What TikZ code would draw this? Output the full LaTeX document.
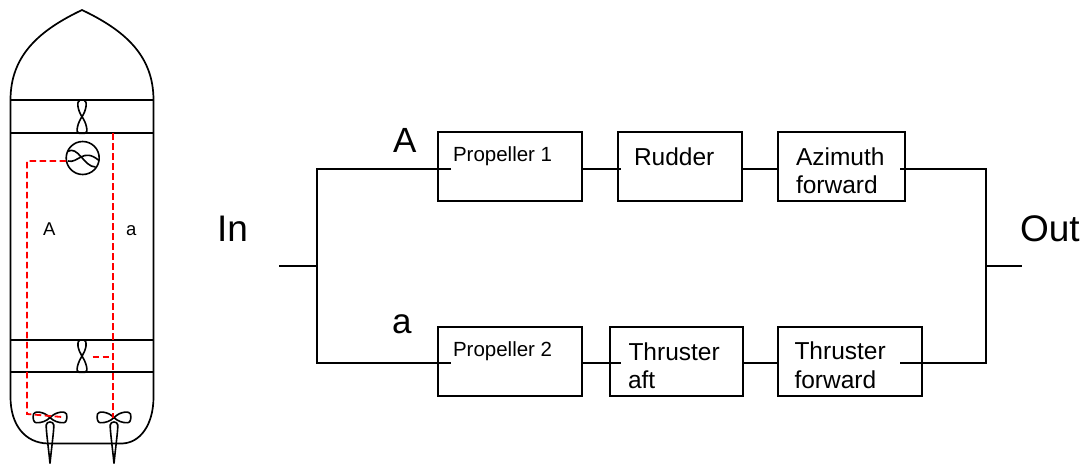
\documentclass[tikz,border=0pt]{standalone}
\usepackage{fontspec}
\setmainfont{Liberation Sans}
\begin{document}
\begin{tikzpicture}[x=1pt,y=-1pt,
  ln/.style={line width=1.8pt},
  hull/.style={line width=1.7pt, line join=round},
  prop/.style={line width=1.6pt, line join=round},
  reddash/.style={line width=1.8pt, red, dash pattern=on 6.5pt off 3.5pt},
  box/.style={draw, line width=1.8pt, rectangle, inner sep=0pt},
  txt/.style={anchor=base west, inner sep=0pt, outer sep=0pt},
  big/.style={txt, font=\fontsize{37}{40}\selectfont},
  mid/.style={txt, font=\fontsize{35}{40}\selectfont},
  bt/.style={txt, font=\fontsize{24.5}{29}\selectfont},
  st/.style={txt, font=\fontsize{20.5}{25}\selectfont},
  sh/.style={txt, font=\fontsize{18.5}{22}\selectfont}]
\useasboundingbox (0,0) rectangle (1091,466);

% ================= ship =================
% bow
\draw[hull] (10.5,100) .. controls (10.5,55) and (40,30) .. (82,10)
            .. controls (124,30) and (153.5,55) .. (153.5,100);
% sides and stern
\draw[hull] (10.5,100) -- (10.5,397) .. controls (10.5,425) and (25,443) .. (48,443.5)
            -- (122,443.5) .. controls (140,443) and (153.5,425) .. (153.5,397) -- (153.5,100);
% tunnels
\draw[hull] (10.5,100) -- (153.5,100);
\draw[hull] (10.5,133.3) -- (153.5,133.3);
\draw[hull] (10.5,340) -- (153.5,340);
\draw[hull] (10.5,372.3) -- (153.5,372.3);
% bow thruster (figure eight)
\draw[prop] (82,116.7) .. controls (86,111) and (88,101) .. (84,100) -- (80,100)
            .. controls (76,101) and (78,111) .. (82,116.7)
            .. controls (86,122) and (89,133) .. (85,133.3) -- (79,133.3)
            .. controls (75,133) and (78,122) .. (82,116.7);
% stern tunnel thruster
\draw[prop] (82,356.2) .. controls (86,350) and (88,341) .. (84,340) -- (80,340)
            .. controls (76,341) and (78,350) .. (82,356.2)
            .. controls (86,362) and (89,372) .. (85,372.3) -- (79,372.3)
            .. controls (75,372) and (78,362) .. (82,356.2);
% azimuth thruster
\draw[prop] (82.7,158) circle[radius=16.5];
\draw[prop] (67.5,151.5) .. controls (78,145) and (84,167) .. (95.5,167);
\draw[prop] (68,161) .. controls (78,164) and (83,147) .. (99,160.5);
% stern propellers
\foreach \cx in {50,114}{
  \draw[prop] (\cx,417.7) .. controls (\cx-6,411) and (\cx-16,411) .. (\cx-16.5,414)
              .. controls (\cx-17.5,418) and (\cx-16.5,422.5) .. (\cx-14,422.7)
              .. controls (\cx-8,423) and (\cx-4,421) .. (\cx,417.7)
              .. controls (\cx+4,421) and (\cx+8,423) .. (\cx+14,422.7)
              .. controls (\cx+16.5,422.5) and (\cx+17.5,418) .. (\cx+16.5,414)
              .. controls (\cx+16,411) and (\cx+6,411) .. (\cx,417.7);
  \draw[prop] (\cx,463.5) .. controls (\cx-1.5,448) and (\cx-4,430) .. (\cx-3.8,425)
              .. controls (\cx-3.5,421) and (\cx+3.5,421) .. (\cx+3.8,425)
              .. controls (\cx+4,430) and (\cx+1.5,448) .. (\cx,463.5);
}
% red control lines
\draw[reddash] (66.2,161) -- (27,161) -- (27,414) -- (62,417);
\draw[reddash] (113.3,133.3) -- (113.3,418);
\draw[reddash] (92.7,356.7) -- (113.3,356.7);
\node[sh] (shA) at (43,235) {A};
\node[sh] (sha) at (126,235) {a};

% ================= block diagram =================
\node[box, minimum width=144pt, minimum height=69pt] (p1) at (510,166.5) {};
\node[box, minimum width=124.5pt, minimum height=69pt] (rd) at (680,166.5) {};
\node[box, minimum width=126.5pt, minimum height=69pt] (az) at (841.5,166.5) {};
\node[box, minimum width=144pt, minimum height=69pt] (p2) at (510,361.5) {};
\node[box, minimum width=133pt, minimum height=69pt] (ta) at (676.5,361.5) {};
\node[box, minimum width=144pt, minimum height=69pt] (tf) at (850,361.5) {};

\node[st] (p1t) at (453,161) {Propeller 1};
\node[bt] (rdt) at (634,165.7) {Rudder};
\node[bt] (azt) at (796,165.3) {Azimuth};
\begin{scope}
  \clip (778,132) rectangle (904,193.8);
  \node[bt] (azt2) at (796,193.3) {forward};
\end{scope}
\node[st] (p2t) at (453,356) {Propeller 2};
\node[bt] (tat) at (628.5,360) {Thruster};
\node[bt] (tft) at (794.5,359.5) {Thruster};
\begin{scope}
  \clip (610,327) rectangle (743,389);
  \node[bt] (tat2) at (628,388.5) {aft};
\end{scope}
\begin{scope}
  \clip (778,327) rectangle (922,389);
  \node[bt] (tft2) at (794.5,388.5) {forward};
\end{scope}

% labels
\node[big] (lin) at (217,241) {In};
\node[big] (lout) at (1020,241) {Out};
\node[mid] (lA) at (393,152) {A};
\node[mid] (la) at (392,333) {a};

% junction coordinates
\coordinate (lj) at (317,266);
\coordinate (rj) at (986,266);
\coordinate (ins) at (279,266);
\coordinate (outs) at (1022,266);
\coordinate (t1a) at (451,169);
\coordinate (t1b) at (582,169);
\coordinate (t2a) at (621,169);
\coordinate (t2b) at (741,169);
\coordinate (t3a) at (778,169);
\coordinate (t3b) at (900,169);
\coordinate (b1a) at (451,363.3);
\coordinate (b1b) at (582,363.3);
\coordinate (b2a) at (621,363.3);
\coordinate (b2b) at (743,363.3);
\coordinate (b3a) at (778,363.3);
\coordinate (b3b) at (900,363.3);

\draw[ln] (t1a) -| (lj) |- (b1a);
\draw[ln] (ins) -- (lj);
\draw[ln] (t3b) -| (rj) |- (b3b);
\draw[ln] (rj) -- (outs);
\draw[ln] (t1b) -- (t2a);
\draw[ln] (t2b) -- (t3a);
\draw[ln] (b1b) -- (b2a);
\draw[ln] (b2b) -- (b3a);
\end{tikzpicture}
\end{document}
